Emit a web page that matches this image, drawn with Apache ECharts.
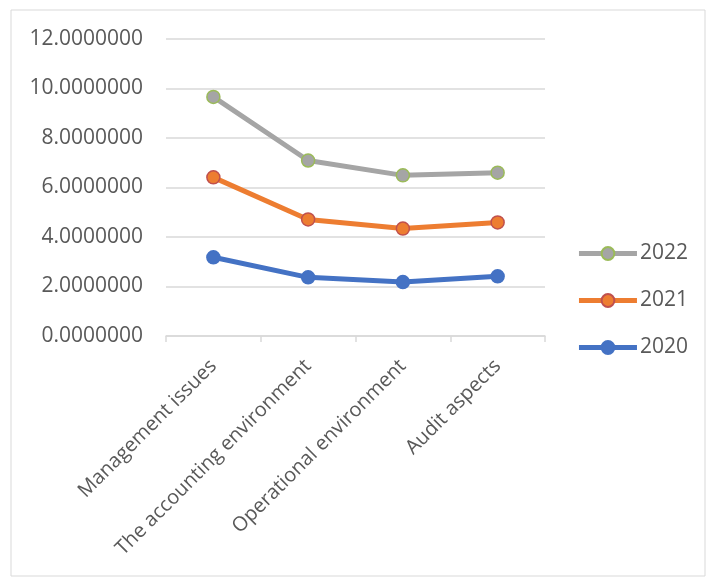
<!DOCTYPE html>
<html>
<head>
<meta charset="utf-8">
<script src="https://cdn.jsdelivr.net/npm/echarts@6/dist/echarts.min.js"></script>
<style>
  html, body { margin: 0; padding: 0; background: #fff; }
  #chart { width: 707px; height: 578px; }
</style>
</head>
<body>
<div id="chart"></div>
<script>
const categories = [
  "Management issues",
  "The accounting environment",
  "Operational environment",
  "Audit aspects",
];
const values2022 = [9.66, 7.09, 6.49, 6.6];
const values2021 = [6.41, 4.71, 4.34, 4.59];
const values2020 = [3.18, 2.37, 2.18, 2.41];

const textColor = "#595959";
const font = "Open Sans";

function lineSeries(name, data, color, border) {
  return {
    name: name,
    type: "line",
    data: data,
    symbol: "circle",
    symbolSize: 13,
    lineStyle: { color: color, width: 5 },
    itemStyle: { color: color, borderColor: border, borderWidth: 1.5 },
    emphasis: { disabled: true },
  };
}

const chart = echarts.init(document.getElementById("chart"));

chart.setOption({
  animation: false,
  textStyle: { fontFamily: font },
  graphic: [
    {
      type: "rect",
      shape: { x: 11, y: 10, width: 694, height: 566 },
      style: { fill: "none", stroke: "#d9d9d9", lineWidth: 1 },
      silent: true,
    },
  ],
  grid: { left: 166, right: 162, top: 39, bottom: 242 },
  legend: {
    orient: "vertical",
    right: 14,
    top: 238,
    itemGap: 26,
    itemWidth: 58,
    itemHeight: 16,
    data: ["2022", "2021", "2020"],
    lineStyle: { width: 5 },
    textStyle: { color: textColor, fontSize: 21, fontFamily: font, padding: [0, 0, 0, -2] },
  },
  xAxis: {
    type: "category",
    data: categories,
    boundaryGap: true,
    axisLine: { lineStyle: { color: "#d9d9d9", width: 1.5 } },
    axisTick: { show: true, length: 6, lineStyle: { color: "#d9d9d9", width: 1.5 } },
    axisLabel: {
      interval: 0,
      rotate: 45,
      margin: 27,
      color: textColor,
      fontSize: 20,
      fontFamily: font,
    },
  },
  yAxis: {
    type: "value",
    min: 0,
    max: 12,
    interval: 2,
    axisLine: { show: false },
    axisTick: { show: false },
    splitLine: { lineStyle: { color: "#d9d9d9", width: 1.5 } },
    axisLabel: {
      color: textColor,
      fontSize: 21,
      fontFamily: font,
      margin: 23,
      formatter: (v) => v.toFixed(7),
    },
  },
  series: [
    lineSeries("2020", values2020, "#4472c4", "#4472c4"),
    lineSeries("2021", values2021, "#ed7d31", "#c0504d"),
    lineSeries("2022", values2022, "#a5a5a5", "#9bbb59"),
  ],
});
</script>
</body>
</html>
